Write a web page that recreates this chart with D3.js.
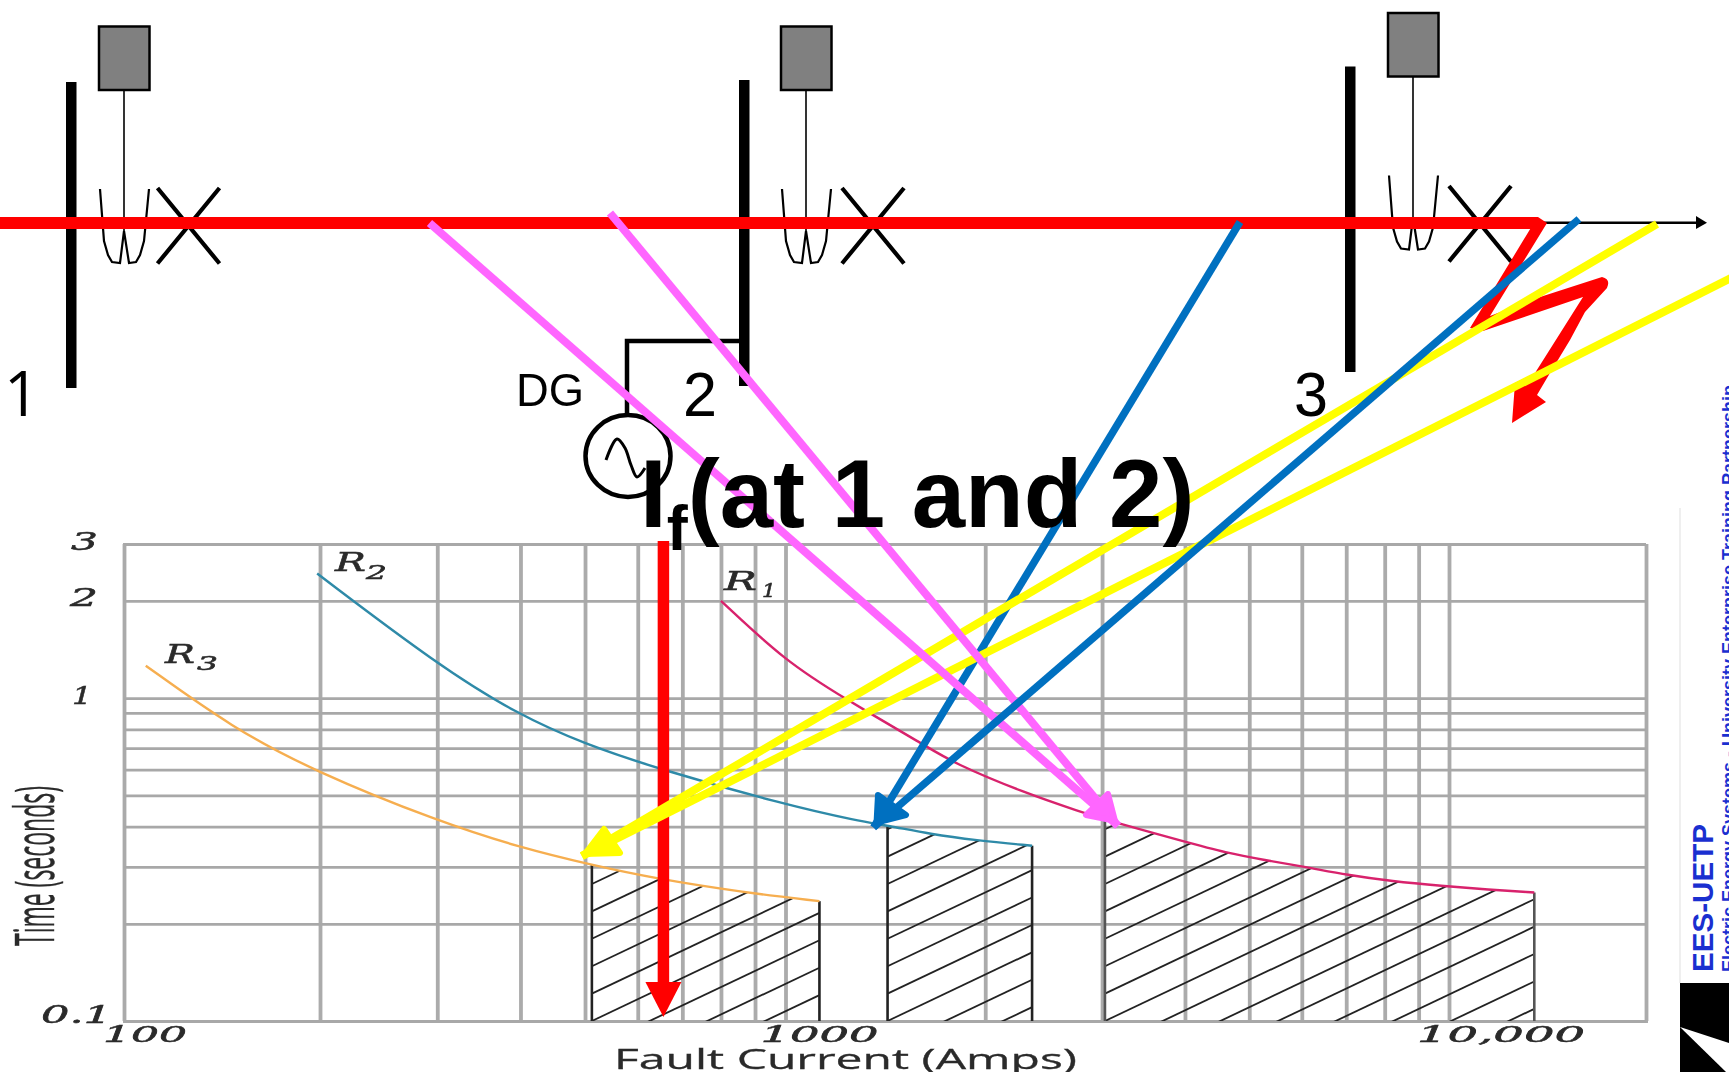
<!DOCTYPE html>
<html><head><meta charset="utf-8">
<script src="https://cdn.jsdelivr.net/npm/d3@7/dist/d3.min.js"></script>
<style>html,body{margin:0;padding:0;background:#fff;overflow:hidden}svg{display:block}</style>
</head><body><svg id="c" width="1729" height="1072"></svg>
<script>
// ---- data ----
const xGrid = [100,200,300,400,500,600,700,800,900,1000,2000,3000,4000,5000,6000,7000,8000,9000,10000,20000];
const yGrid = [0.1,0.2,0.3,0.4,0.5,0.6,0.7,0.8,0.9,1,2,3];
const xLabels = ["100","1000","10,000"];
const yLabels = ["3","2","1","0.1"];
const r1Amps = [800,1000,1224,1622,1788,2296,2790,3030,4020,4604,5272,6080,7037,8203,9750,11480,13500];
const r1Secs = [2.0,1.30,1.0,0.714,0.63,0.508,0.444,0.42,0.358,0.332,0.315,0.30,0.283,0.271,0.262,0.255,0.25];
const r2Amps = [198,300,396,500,638,1000,1290,1425,1656,1929,2353];
const r2Secs = [2.43,1.27,0.89,0.72,0.607,0.467,0.416,0.403,0.379,0.363,0.349];
const r3Amps = [108,147,196,300,400,512,638,867,1125];
const r3Secs = [1.26,0.807,0.594,0.416,0.344,0.304,0.276,0.25,0.235];
const seriesNames = ["R1","R2","R3"];
const seriesColors = ["#d8226c","#2f8aa8","#f6ae50"];

const svg = d3.select("#c");
const defs = svg.append("defs");
defs.append("filter").attr("id","soft").attr("filterUnits","userSpaceOnUse").attr("x",0).attr("y",0).attr("width",1729).attr("height",1072)
  .append("feGaussianBlur").attr("stdDeviation",0.75);
defs.append("filter").attr("id","soft2").attr("filterUnits","userSpaceOnUse").attr("x",0).attr("y",0).attr("width",1729).attr("height",1072)
  .append("feGaussianBlur").attr("stdDeviation",0.4);

const x = d3.scaleLog().domain([100,200,1000,10000,20000]).range([124,320,785.5,1449,1646]);
const y = d3.scaleLog().domain([0.1,3]).range([1021,544]);

// ---- chart ----
const chart = svg.append("g").attr("filter","url(#soft)");
const gx = chart.append("g").attr("transform",`translate(0,${y(0.1)})`)
  .call(d3.axisBottom(x).tickValues(xGrid).tickSize(y(3)-y(0.1)).tickFormat(""));
gx.select(".domain").attr("stroke","#aaa").attr("stroke-width",3);
gx.selectAll("line").attr("stroke","#ababab").attr("stroke-width",3.8);
const gy = chart.append("g").attr("transform",`translate(${x(100)},0)`)
  .call(d3.axisLeft(y).tickValues(yGrid).tickSize(x(100)-x(20000)).tickFormat(""));
gy.select(".domain").attr("stroke","#aaa").attr("stroke-width",3);
gy.selectAll("line").attr("stroke","#a8a8a8").attr("stroke-width",2.8);

const line = d3.line().curve(d3.curveBasis).x(d=>x(d[0])).y(d=>y(d[1]));
const area = d3.area().curve(d3.curveBasis).x(d=>x(d[0])).y0(y(0.1)).y1(d=>y(d[1]));
const series = [
  {a:r1Amps,s:r1Secs,from:3030,side:"#555"},
  {a:r2Amps,s:r2Secs,from:1425,side:"#222"},
  {a:r3Amps,s:r3Secs,from:512,side:"#222"}
];
series.forEach((d,i)=>{
  const pts = d.a.map((v,j)=>[v,d.s[j]]);
  const sub = pts.filter(p=>p[0]>=d.from);
  const id = "hatch"+i;
  defs.append("clipPath").attr("id",id).append("path").attr("d",area(pts));
  const h = chart.append("g").attr("clip-path",`url(#${id})`);
  const x0 = x(sub[0][0]), x1 = x(sub[sub.length-1][0]);
  const dy = 27.4, slope = 0.475;
  d3.range(-12,8).forEach(k=>{
    h.append("line").attr("x1",x0).attr("y1",y(0.1)-k*dy)
      .attr("x2",x1).attr("y2",y(0.1)-k*dy-(x1-x0)*slope)
      .attr("stroke","#222").attr("stroke-width",1.8);
  });
  [sub[0],sub[sub.length-1]].forEach(p=>{
    chart.append("line").attr("x1",x(p[0])).attr("x2",x(p[0])).attr("y1",y(0.1)).attr("y2",y(p[1]))
      .attr("stroke",d.side).attr("stroke-width",2.6);
  });
  chart.append("path").attr("d",line(pts)).attr("fill","none").attr("stroke",seriesColors[i]).attr("stroke-width",2.4);
});

function stretched(g,t,px,py,len,size,o={}){
  return g.append("text").attr("x",px).attr("y",py).attr("textLength",len).attr("lengthAdjust","spacingAndGlyphs")
    .attr("font-family",o.family||"DejaVu Serif").attr("font-style",o.style||"italic").attr("font-size",size)
    .attr("font-weight",o.weight||"normal").attr("fill",o.fill||"#2a2a2a")
    .attr("stroke",o.fill||"#2a2a2a").attr("stroke-width",o.sw===undefined?0.5:o.sw).text(t);
}
// tick labels
stretched(chart,yLabels[0],71,550,27,24);
stretched(chart,yLabels[1],70,606,28,24);
stretched(chart,yLabels[2],72,704,20,25);
stretched(chart,yLabels[3],41,1023,71,24);
stretched(chart,xLabels[0],x(100)-21,1042,84,22);
stretched(chart,xLabels[1],x(1000)-25,1042,118,22);
stretched(chart,xLabels[2],x(10000)-32,1042,168,22);
// curve labels
stretched(chart,"R",724,590,33,26); stretched(chart,"1",762,597,14,18);
stretched(chart,"R",335,571,31,26); stretched(chart,"2",366,579,21,18);
stretched(chart,"R",165,663,30,26); stretched(chart,"3",197,670,21,18);
// axis titles
stretched(chart,"Fault Current (Amps)",614,1069,463,28,{family:"Open Sans",style:"normal",sw:0.3});
const ty = chart.append("g").attr("transform","translate(54,946) rotate(-90)");
stretched(ty,"Time (seconds)",0,0,160,55,{family:"Open Sans",style:"normal",sw:0.4});

// ---- one-line diagram ----
const dia = svg.append("g").attr("filter","url(#soft2)");
const path = d3.line();
function bay(dx,dy,xdx,xdy){
  dia.append("rect").attr("x",99+dx).attr("y",26.5+dy).attr("width",50.5).attr("height",63.5)
    .attr("fill","#808080").attr("stroke","#000").attr("stroke-width",2.5);
  dia.append("line").attr("x1",124+dx).attr("x2",124+dx).attr("y1",90+dy).attr("y2",232+dy).attr("stroke","#000").attr("stroke-width",1.6);
  dia.append("path").attr("d",path([[100,189],[104,241],[108,255],[112,262],[120,263],[124,231],[129,263],[136,262],[140,255],[144,241],[149,189]].map(p=>[p[0]+dx,p[1]+dy])))
    .attr("fill","none").attr("stroke","#000").attr("stroke-width",2.2);
  dia.append("path").attr("d",`M${157.5+xdx},${188+xdy}L${219.5+xdx},${263.5+xdy}M${219.5+xdx},${188+xdy}L${157.5+xdx},${263.5+xdy}`)
    .attr("stroke","#000").attr("stroke-width",4.2).attr("fill","none");
}
[[71,82,388],[744,80,386],[1350,66.5,372]].forEach(b=>{
  dia.append("rect").attr("x",b[0]-5).attr("y",b[1]).attr("width",10.5).attr("height",b[2]-b[1]).attr("fill","#000");
});
bay(0,0,0,0); bay(682,0,684.5,0); bay(1289,-13.5,1291.5,-2);

// DG branch
dia.append("path").attr("d",path([[744,341],[627,341],[627,415]])).attr("fill","none").attr("stroke","#000").attr("stroke-width",4.5);
dia.append("ellipse").attr("cx",628).attr("cy",456).attr("rx",42.5).attr("ry",41).attr("fill","none").attr("stroke","#000").attr("stroke-width",4.5);
dia.append("path").attr("d",d3.line().curve(d3.curveCatmullRom)([[606,460],[617,439],[625,448],[631,465],[637,477],[645,468]]))
  .attr("fill","none").attr("stroke","#000").attr("stroke-width",3);

// labels
const sans = "Liberation Sans";
function lab(t,px,py,size,len,fam){
  const e = dia.append("text").attr("x",px).attr("y",py).attr("font-family",fam||sans).attr("font-size",size).attr("fill","#000").text(t);
  if(len) e.attr("textLength",len).attr("lengthAdjust","spacingAndGlyphs");
  return e;
}
lab("1",4,416,62,null,"Open Sans"); lab("2",683,416,63,34); lab("3",1294,416,63,34); lab("DG",516,406,47,68);

// far-end arrow
dia.append("line").attr("x1",1540).attr("x2",1700).attr("y1",222.7).attr("y2",222.7).attr("stroke","#000").attr("stroke-width",2.4);
dia.append("path").attr("d","M1696,216L1707,222.7L1696,229Z").attr("fill","#000");

// red feeder and fault flash
dia.append("path").attr("d","M0,217L1538,217L1547,223L1540,229L0,229Z").attr("fill","#f00");
dia.append("path").attr("d","M1532,226L1547,223L1490,316L1537,298L1602,277Q1611,279 1607,288L1585,312L1570,340L1547,378L1537,395L1546,402L1512,423L1515,383L1535,373L1583,297L1483,331L1470,328Z").attr("fill","#f00");

// arrows
function shaft(from,tip,col,w){
  dia.append("line").attr("x1",from[0]).attr("y1",from[1]).attr("x2",tip[0]).attr("y2",tip[1]).attr("stroke",col).attr("stroke-width",w);
}
function head(tip,b1,b2,col){
  dia.append("path").attr("d",path([tip,b1,b2])+"Z")
    .attr("fill",col).attr("stroke",col).attr("stroke-width",6).attr("stroke-linejoin","round");
}
const pink="#ff66ff", blue="#0070c0", yellow="#ffff00", red="#f00";
const tipR3=[x(512)-10,y(0.304)-9], tipR2=[x(1425)-14,y(0.403)+2], tipR1=[x(3030)+13,y(0.405)+1];

// vertical red fault arrow
const fx = x(640)+7;
dia.append("line").attr("x1",fx).attr("x2",fx).attr("y1",541).attr("y2",990).attr("stroke",red).attr("stroke-width",11.5);
dia.append("path").attr("d",`M${fx-18},982L${fx+18},982L${fx},1017Z`).attr("fill",red);

shaft([1240,222],tipR2,blue,7.5);
shaft([1657,224],tipR3,yellow,8);
shaft([1735,276],tipR3,yellow,8);
shaft([429.5,223],tipR1,pink,8);
shaft([610,213],tipR1,pink,8);
shaft([1579,219],tipR2,blue,7.5);
head([tipR3[0]+3,tipR3[1]-2],[604,829],[620,853],yellow);
head([tipR2[0]+3,tipR2[1]-5],[878,795],[906,815],blue);
head([tipR1[0]-3,tipR1[1]-5],[1108,794],[1086,815],pink);

// big label on top of the arrows
const big = svg.append("text").attr("x",640).attr("y",527).attr("font-family",sans).attr("font-weight","bold").attr("font-size",96).attr("fill","#000");
big.append("tspan").text("I");
big.append("tspan").attr("font-size",63).attr("dy",23).text("f");
big.append("tspan").attr("dy",-23).text("(at 1 and 2)");

// side banner
const bn = svg.append("g");
bn.append("rect").attr("x",1679).attr("y",508).attr("width",2).attr("height",475).attr("fill","#efefef");
bn.append("rect").attr("x",1680).attr("y",983).attr("width",49).attr("height",89).attr("fill","#000");
bn.append("path").attr("d","M1680,1027L1729,1043L1729,1072L1726,1072Z").attr("fill","#fff");
const eb = bn.append("g").attr("transform","translate(1713,972) rotate(-90)");
stretched(eb,"EES-UETP",0,0,148,30,{family:sans,style:"normal",weight:"bold",fill:"#1a2fd0",sw:0});
const eb2 = bn.append("g").attr("transform","translate(1735,972) rotate(-90)");
stretched(eb2,"Electric Energy Systems - University Enterprise Training Partnership",0,0,587,19,{family:sans,style:"normal",weight:"bold",fill:"#1a2fd0",sw:0});
</script></body></html>
